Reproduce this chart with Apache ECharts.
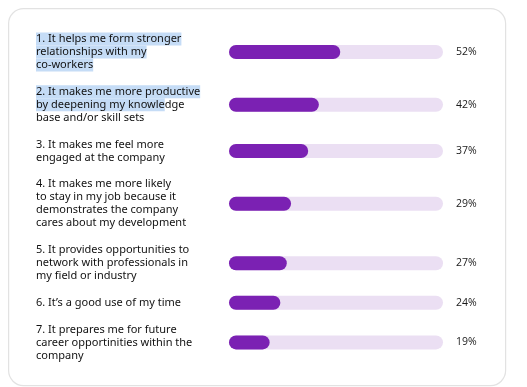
<!DOCTYPE html>
<html><head><meta charset="utf-8">
<script src="https://cdn.jsdelivr.net/npm/echarts@6/dist/echarts.min.js"></script>
<style>html,body{margin:0;padding:0;background:#fff}#c{width:527px;height:387px}</style>
</head><body><div id="c"></div>
<script>
var categories = [
  "1. It helps me form stronger\nrelationships with my\nco-workers",
  "2. It makes me more productive\nby deepening my knowledge\nbase and/or skill sets",
  "3. It makes me feel more\nengaged at the company",
  "4. It makes me more likely\nto stay in my job because it\ndemonstrates the company\ncares about my development",
  "5. It provides opportunities to\nnetwork with professionals in\nmy field or industry",
  "6. It\u2019s a good use of my time",
  "7. It prepares me for future\ncareer opportinities within the\ncompany"
];
var values = [52, 42, 37, 29, 27, 24, 19];
var axisMax = 100;

// row placement derived from the number of text lines in each label
var data = [];
var cum = 0;
categories.forEach(function (c, i) {
  var n = c.split("\n").length;
  data.push([values[i], cum + n / 2, i]);
  cum += n + 1;
});
var totalUnits = cum;
var UNIT = 13.2, TOP = 32.2;

// selection-highlight effect seen in the reference (row -> per-line highlighted char count)
var highlight = {0: [999, 999, 999], 1: [999, 22, 0]};

function richLabel(i) {
  var lines = categories[i].split("\n");
  var h = highlight[i];
  return lines.map(function (ln, k) {
    var n = h ? Math.min(h[k] || 0, ln.length) : 0;
    var a = ln.slice(0, n), b = ln.slice(n);
    return (a ? "{h|" + a + "}" : "") + (b ? "{n|" + b + "}" : "");
  }).join("\n");
}

var FONT = "Noto Sans";
var chart = echarts.init(document.getElementById("c"), null, {renderer: "canvas"});
chart.setOption({
  animation: false,
  graphic: [{
    type: "rect", left: 8, top: 8, shape: {width: 497, height: 377, r: 15},
    style: {fill: "#fff", stroke: "#e2e2e2", lineWidth: 1.2}, z: -10
  }],
  grid: {left: 229, right: 84, top: TOP, bottom: 387 - TOP - totalUnits * UNIT},
  xAxis: {type: "value", min: 0, max: axisMax, show: false},
  yAxis: {type: "value", min: 0, max: totalUnits, inverse: true, show: false},
  series: [{
    type: "custom",
    data: data,
    encode: {x: 0, y: 1},
    clip: false,
    renderItem: function (params, api) {
      var v = api.value(0), y = api.value(1), i = api.value(2);
      var p0 = api.coord([0, y]);
      var p1 = api.coord([axisMax, y]);
      var pv = api.coord([v, y]);
      var h = 14;
      return {
        type: "group",
        children: [
          {type: "rect", shape: {x: p0[0], y: p0[1] - h / 2, width: p1[0] - p0[0], height: h, r: h / 2},
           style: {fill: "#ebdff3"}},
          {type: "rect", shape: {x: p0[0], y: p0[1] - h / 2, width: pv[0] - p0[0], height: h, r: h / 2},
           style: {fill: "#7b21b3"}},
          {type: "text", x: 36, y: p0[1],
           style: {text: richLabel(i), fill: "#111", font: "11px '" + FONT + "'",
                   lineHeight: 13, verticalAlign: "middle", align: "left",
                   rich: {
                     h: {backgroundColor: "#c5dcf6", fill: "#111", fontFamily: FONT, fontSize: 11, lineHeight: 13, height: 13},
                     n: {fill: "#111", fontFamily: FONT, fontSize: 11, lineHeight: 13, height: 13}
                   }}},
          {type: "text", x: 456, y: p0[1],
           style: {text: v + "%", fill: "#1a1a1a", font: "10.5px 'Open Sans'",
                   verticalAlign: "middle", align: "left"}}
        ]
      };
    }
  }]
});
</script></body></html>
